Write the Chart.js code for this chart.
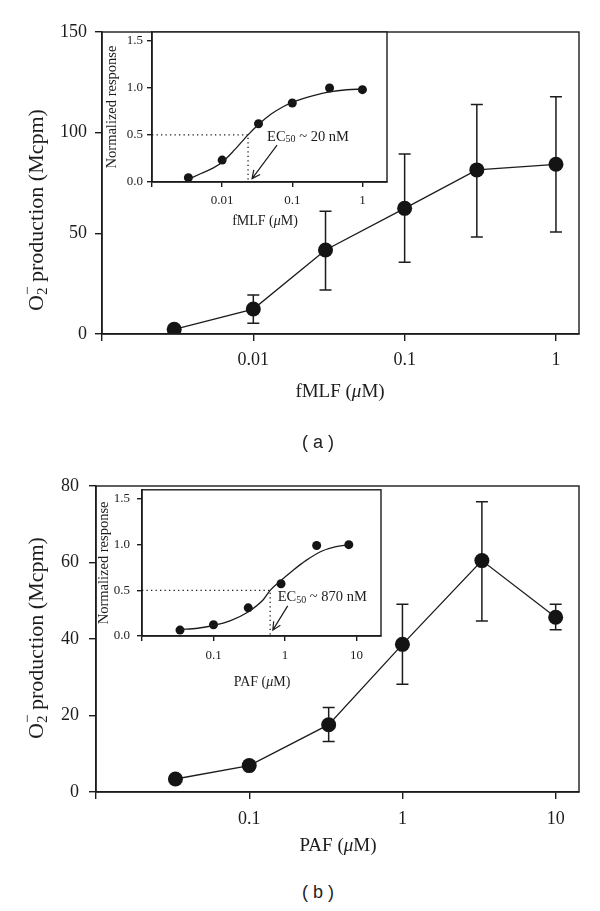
<!DOCTYPE html>
<html>
<head>
<meta charset="utf-8">
<script src="https://cdn.jsdelivr.net/npm/chart.js@4.4.0/dist/chart.umd.min.js"></script>
<style>
  body { margin: 0; background: #fff; width: 600px; height: 911px; position: relative; overflow: hidden; }
  canvas { position: absolute; }
  .cap { position: absolute; font: 18px "Liberation Sans", Arial, sans-serif; color: #222; transform: translate(-50%, -50%); white-space: pre; }
</style>
</head>
<body>
<canvas id="mainA" width="600" height="420" style="left:0;top:0"></canvas>
<canvas id="insetA" width="300" height="220" style="left:100px;top:20px"></canvas>
<canvas id="mainB" width="600" height="420" style="left:0;top:440px"></canvas>
<canvas id="insetB" width="310" height="225" style="left:90px;top:475px"></canvas>
<div class="cap" style="left:318px;top:442px">( a )</div>
<div class="cap" style="left:318px;top:892px">( b )</div>
<script>
// ---- (a) fMLF, main panel
const fmlfDose = [0.003, 0.01, 0.03, 0.1, 0.3, 1];
const fmlfO2 = [2.3, 12.4, 41.7, 62.4, 81.5, 84.3];
const fmlfErrLo = [null, 5.4, 21.9, 35.6, 48.2, 50.7];
const fmlfErrHi = [null, 19.4, 61, 89.4, 114, 117.9];
const fmlfXTicks = [0.001, 0.01, 0.1, 1];
const fmlfXLabels = ['', '0.01', '0.1', '1'];
const o2YTicksA = [0, 50, 100, 150];

// ---- (a) fMLF, inset (normalized)
const fmlfNormDose = [0.0033, 0.01, 0.033, 0.1, 0.34, 1];
const fmlfNorm = [0.046, 0.232, 0.617, 0.838, 0.996, 0.979];
const fmlfFitDose = [0.0033, 0.005, 0.0075, 0.01, 0.015, 0.0234, 0.033, 0.05, 0.075, 0.1, 0.2, 0.34, 0.6, 1];
const fmlfFit = [0.03, 0.09, 0.15, 0.21, 0.34, 0.5, 0.61, 0.72, 0.8, 0.845, 0.915, 0.955, 0.978, 0.985];
const fmlfEC50 = 0.0234;

// ---- (b) PAF, main panel
const pafDose = [0.033, 0.1, 0.33, 1, 3.3, 10];
const pafO2 = [3.4, 6.9, 17.6, 38.6, 60.5, 45.7];
const pafErrLo = [null, null, 13.2, 28.2, 44.7, 42.4];
const pafErrHi = [null, null, 22.1, 49.1, 75.9, 49.1];
const pafXTicks = [0.01, 0.1, 1, 10];
const pafXLabels = ['', '0.1', '1', '10'];
const o2YTicksB = [0, 20, 40, 60, 80];

// ---- (b) PAF, inset (normalized)
const pafNormDose = [0.034, 0.1, 0.306, 0.88, 2.77, 7.8];
const pafNorm = [0.065, 0.123, 0.308, 0.572, 0.99, 1.0];
const pafFitDose = [0.034, 0.06, 0.1, 0.17, 0.3, 0.5, 0.62, 0.8, 1.3, 2, 3.3, 5, 7.8];
const pafFit = [0.07, 0.085, 0.115, 0.165, 0.26, 0.4, 0.5, 0.58, 0.72, 0.83, 0.93, 0.975, 1.0];
const pafEC50 = 0.62;

const normYTicks = [0, 0.5, 1, 1.5];
const fmlfInsetXTicks = [0.001, 0.01, 0.1, 1];
const fmlfInsetXLabels = ['', '0.01', '0.1', '1'];

const ink = '#1c1c1c';
const serif = '"Liberation Serif", "Times New Roman", serif';
const pts = (xs, ys) => xs.map((x, i) => ({ x: x, y: ys[i] }));

// draw a line of text made of runs (sub/superscripts, italics)
function drawRuns(ctx, runs, x, y, rot, align) {
  ctx.save();
  ctx.translate(x, y);
  if (rot) ctx.rotate(rot);
  ctx.fillStyle = ink;
  ctx.textBaseline = 'middle';
  ctx.textAlign = 'left';
  let total = 0;
  const widths = runs.map(r => {
    ctx.font = r.font;
    const w = ctx.measureText(r.t).width;
    if (!r.stack) total += w;
    return w;
  });
  let cx = align === 'left' ? 0 : -total / 2;
  let prev = cx;
  runs.forEach((r, i) => {
    ctx.font = r.font;
    ctx.fillText(r.t, r.stack ? prev : cx, r.dy || 0);
    if (!r.stack) { prev = cx; cx += widths[i]; }
  });
  ctx.restore();
}

const o2Title = [
  { t: 'O', font: `22px ${serif}` },
  { t: '2', font: `15px ${serif}`, dy: 6 },
  { t: '\u2212', font: `15px ${serif}`, dy: -9, stack: true },
  { t: ' production (Mcpm)', font: `22px ${serif}` }
];
const doseTitle = (name, size) => [
  { t: name + ' (', font: `${size}px ${serif}` },
  { t: '\u03bc', font: `italic ${size}px ${serif}` },
  { t: 'M)', font: `${size}px ${serif}` }
];

const frame = {
  id: 'frame',
  beforeDraw(chart) {
    const a = chart.chartArea, ctx = chart.ctx;
    if (chart.options.plugins.frame && chart.options.plugins.frame.fill) {
      ctx.save(); ctx.fillStyle = '#fff';
      ctx.fillRect(a.left, a.top, a.right - a.left, a.bottom - a.top);
      ctx.restore();
    }
  },
  afterDraw(chart) {
    const a = chart.chartArea, ctx = chart.ctx;
    ctx.save();
    ctx.strokeStyle = ink; ctx.lineWidth = 1.4;
    ctx.strokeRect(a.left, a.top, a.right - a.left, a.bottom - a.top);
    ctx.restore();
  }
};

const errorBars = (xs, lo, hi) => ({
  id: 'errorBars',
  beforeDatasetsDraw(chart) {
    const { ctx, scales: { x, y } } = chart;
    ctx.save();
    ctx.strokeStyle = ink; ctx.lineWidth = 1.5;
    xs.forEach((v, i) => {
      if (hi[i] == null) return;
      const px = x.getPixelForValue(v);
      const top = y.getPixelForValue(hi[i]);
      const bot = y.getPixelForValue(lo[i]);
      ctx.beginPath();
      ctx.moveTo(px, top); ctx.lineTo(px, bot);
      ctx.moveTo(px - 6, top); ctx.lineTo(px + 6, top);
      ctx.moveTo(px - 6, bot); ctx.lineTo(px + 6, bot);
      ctx.stroke();
    });
    ctx.restore();
  }
});

const titles = (list) => ({
  id: 'richTitles',
  afterDraw(chart) {
    list.forEach(t => drawRuns(chart.ctx, t.runs, t.x, t.y, t.rot, t.align));
  }
});

// EC50 guides: dotted lines, arrow and label (positions in data units)
const ec50Marks = (ec, label, textAt, arrowFrom, arrowTo) => ({
  id: 'ec50',
  afterDatasetsDraw(chart) {
    const { ctx, scales: { x, y }, chartArea: a } = chart;
    const ex = x.getPixelForValue(ec), hy = y.getPixelForValue(0.5);
    ctx.save();
    ctx.strokeStyle = ink; ctx.lineWidth = 1.3;
    ctx.setLineDash([1.3, 3.2]);
    ctx.beginPath();
    ctx.moveTo(a.left, hy); ctx.lineTo(ex, hy); ctx.lineTo(ex, a.bottom);
    ctx.stroke();
    ctx.setLineDash([]);
    const x0 = x.getPixelForValue(arrowFrom[0]), y0 = y.getPixelForValue(arrowFrom[1]);
    const x1 = x.getPixelForValue(arrowTo[0]), y1 = y.getPixelForValue(arrowTo[1]);
    const ang = Math.atan2(y1 - y0, x1 - x0);
    ctx.lineWidth = 1.2;
    ctx.beginPath();
    ctx.moveTo(x0, y0); ctx.lineTo(x1, y1);
    ctx.moveTo(x1 - 9 * Math.cos(ang - 0.45), y1 - 9 * Math.sin(ang - 0.45));
    ctx.lineTo(x1, y1);
    ctx.lineTo(x1 - 9 * Math.cos(ang + 0.45), y1 - 9 * Math.sin(ang + 0.45));
    ctx.stroke();
    ctx.restore();
    drawRuns(ctx, [
      { t: 'EC', font: `14.5px ${serif}` },
      { t: '50', font: `10px ${serif}`, dy: 3 },
      { t: label, font: `14.5px ${serif}` }
    ], x.getPixelForValue(textAt[0]), y.getPixelForValue(textAt[1]), 0, 'left');
  }
});

function buildOptions(o) {
  return {
    responsive: false,
    animation: false,
    layout: { padding: o.padding },
    plugins: { legend: { display: false }, tooltip: { enabled: false }, frame: { fill: !!o.fill } },
    scales: {
      x: {
        type: 'logarithmic', min: o.xMin, max: o.xMax, bounds: 'data',
        afterBuildTicks: s => { s.ticks = o.xTicks.map(v => ({ value: v })); },
        afterFit: s => { s.height = o.xHeight; },
        grid: { display: true, drawOnChartArea: false, drawTicks: true, tickLength: o.tickLen, color: ink, lineWidth: 1.4 },
        border: { display: true, color: ink, width: 1.5 },
        ticks: { autoSkip: false, maxRotation: 0, padding: o.xPad, color: ink,
                 font: { family: serif, size: o.tickSize }, callback: (v, i) => o.xLabels[i] }
      },
      y: {
        type: 'linear', min: o.yMin, max: o.yMax, bounds: 'data',
        afterBuildTicks: s => { s.ticks = o.yTicks.map(v => ({ value: v })); },
        afterFit: s => { s.width = o.yWidth; },
        grid: { display: true, drawOnChartArea: false, drawTicks: true, tickLength: o.tickLen, color: ink, lineWidth: 1.4 },
        border: { display: true, color: ink, width: 1.5 },
        title: o.yTitle ? { display: true, text: o.yTitle, color: ink, font: { family: serif, size: 14.5 },
                            padding: { top: o.yTitlePad, bottom: 0 } } : { display: false },
        ticks: { padding: o.yPad, color: ink, font: { family: serif, size: o.tickSize },
                 callback: o.yFmt }
      }
    }
  };
}

const mainSet = (xs, ys) => ({
  data: pts(xs, ys), borderColor: ink, borderWidth: 1.3, tension: 0,
  pointRadius: 7.5, pointBackgroundColor: '#141414', pointBorderWidth: 0
});
const fitSet = (xs, ys) => ({
  data: pts(xs, ys), borderColor: ink, borderWidth: 1.3,
  cubicInterpolationMode: 'monotone', pointRadius: 0
});
const dotSet = (xs, ys) => ({
  data: pts(xs, ys), showLine: false, pointRadius: 4.5,
  pointBackgroundColor: '#141414', pointBorderWidth: 0
});

// (a) main
new Chart(document.getElementById('mainA'), {
  type: 'line',
  data: { datasets: [mainSet(fmlfDose, fmlfO2)] },
  options: buildOptions({
    padding: { top: 32, right: 21, left: 0, bottom: 0 },
    xMin: 0.001, xMax: 1.42, xTicks: fmlfXTicks, xLabels: fmlfXLabels, xHeight: 86,
    yMin: 0, yMax: 150, yTicks: o2YTicksA, yWidth: 102, yFmt: v => String(v),
    tickLen: 7, tickSize: 18, xPad: 8, yPad: 8
  }),
  plugins: [frame, errorBars(fmlfDose, fmlfErrLo, fmlfErrHi), titles([
    { runs: o2Title, x: 37, y: 210, rot: -Math.PI / 2 },
    { runs: doseTitle('fMLF', 19), x: 340, y: 392 }
  ])]
});

// (a) inset
new Chart(document.getElementById('insetA'), {
  type: 'line',
  data: { datasets: [fitSet(fmlfFitDose, fmlfFit), dotSet(fmlfNormDose, fmlfNorm)] },
  options: buildOptions({
    padding: { top: 12, right: 13, left: 0, bottom: 0 }, fill: true,
    xMin: 0.001, xMax: 2.24, xTicks: fmlfInsetXTicks, xLabels: fmlfInsetXLabels, xHeight: 58,
    yMin: 0, yMax: 1.59, yTicks: normYTicks, yWidth: 52, yFmt: v => v.toFixed(1),
    yTitle: 'Normalized response', yTitlePad: 3,
    tickLen: 5, tickSize: 13, xPad: 6, yPad: 4
  }),
  plugins: [frame, ec50Marks(fmlfEC50, ' ~ 20 nM', [0.0437, 0.48], [0.0606, 0.39], [0.0267, 0.036]),
    titles([{ runs: doseTitle('fMLF', 14), x: 165, y: 201 }])]
});

// (b) main
new Chart(document.getElementById('mainB'), {
  type: 'line',
  data: { datasets: [mainSet(pafDose, pafO2)] },
  options: buildOptions({
    padding: { top: 46, right: 21, left: 0, bottom: 0 },
    xMin: 0.01, xMax: 14.2, xTicks: pafXTicks, xLabels: pafXLabels, xHeight: 68,
    yMin: 0, yMax: 80, yTicks: o2YTicksB, yWidth: 96, yFmt: v => String(v),
    tickLen: 7, tickSize: 18, xPad: 9, yPad: 10
  }),
  plugins: [frame, errorBars(pafDose, pafErrLo, pafErrHi), titles([
    { runs: o2Title, x: 37, y: 198, rot: -Math.PI / 2 },
    { runs: doseTitle('PAF', 19), x: 338, y: 406 }
  ])]
});

// (b) inset
new Chart(document.getElementById('insetB'), {
  type: 'line',
  data: { datasets: [fitSet(pafFitDose, pafFit), dotSet(pafNormDose, pafNorm)] },
  options: buildOptions({
    padding: { top: 11, right: 19, left: 0, bottom: 0 }, fill: true,
    xMin: 0.01, xMax: 22, xTicks: pafXTicks, xLabels: pafXLabels, xHeight: 64,
    yMin: 0, yMax: 1.6, yTicks: normYTicks, yWidth: 52, yFmt: v => v.toFixed(1),
    yTitle: 'Normalized response', yTitlePad: 5,
    tickLen: 5, tickSize: 13, xPad: 7, yPad: 7
  }),
  plugins: [frame, ec50Marks(pafEC50, ' ~ 870 nM', [0.79, 0.42], [1.09, 0.33], [0.675, 0.064]),
    titles([{ runs: doseTitle('PAF', 14), x: 172, y: 207 }])]
});
</script>
</body>
</html>
